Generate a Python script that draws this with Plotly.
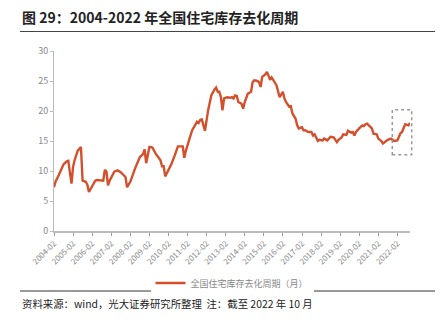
import plotly.graph_objects as go

# months since 2004-02 -> value
dates = [
    "2004-02","2004-03","2004-05","2004-07","2004-08","2004-10","2004-11","2005-01","2005-02","2005-03",
    "2005-05","2005-07","2005-08","2005-10","2005-11","2005-12","2006-02","2006-04","2006-05","2006-07",
    "2006-09","2006-10","2006-11","2006-12","2007-01","2007-04","2007-06","2007-08","2007-11","2007-12",
    "2008-02","2008-05","2008-08","2008-10","2008-11","2008-12","2009-02","2009-03","2009-04","2009-06",
    "2009-09","2009-10","2009-11","2009-12","2010-02","2010-04","2010-06","2010-08","2010-10","2010-11",
    "2010-12","2011-01","2011-03","2011-05","2011-08","2011-09","2011-10","2011-11","2012-01","2012-02",
    "2012-03","2012-05","2012-06","2012-07","2012-08","2012-09","2012-10","2012-11","2012-12","2013-01",
    "2013-03","2013-05","2013-06","2013-07","2013-08","2013-09","2013-10","2013-12","2014-01","2014-02",
    "2014-04","2014-06","2014-07","2014-08","2014-10","2014-11","2014-12","2015-01","2015-03","2015-04",
    "2015-05","2015-06","2015-07","2015-09","2015-10","2015-12","2016-02","2016-03","2016-04","2016-06",
    "2016-07","2016-08","2016-10","2016-11","2016-12","2017-02","2017-03","2017-04","2017-06","2017-08",
    "2017-09","2017-10","2017-12","2018-01","2018-03","2018-04","2018-06","2018-08","2018-09","2018-10",
    "2018-12","2019-01","2019-03","2019-04","2019-06","2019-07","2019-09","2019-10","2019-11","2019-12",
    "2020-02","2020-04","2020-05","2020-06","2020-07","2020-08","2020-10","2020-11","2021-01","2021-02",
    "2021-04","2021-05","2021-07","2021-08","2021-10","2021-11","2021-12","2022-02","2022-03","2022-04",
    "2022-05","2022-06","2022-07","2022-09","2022-10",
]
values = [
    7.3, 8.2, 9.3, 10.5, 11.1, 11.6, 11.7, 7.9, 10.7, 11.8,
    13.4, 14.0, 8.4, 8.2, 7.7, 6.5, 7.6, 8.4, 8.5, 8.4,
    8.4, 10.2, 9.9, 7.6, 8.4, 9.9, 10.1, 9.8, 9.0, 7.3,
    8.2, 10.4, 12.3, 12.8, 13.6, 11.3, 14.0, 14.0, 13.9, 12.9,
    11.8, 10.8, 10.8, 9.1, 10.1, 11.2, 12.6, 14.1, 14.1, 14.1,
    12.2, 13.4, 15.1, 16.8, 18.2, 18.0, 18.5, 18.6, 16.7, 18.7,
    20.1, 22.6, 23.2, 23.6, 23.9, 23.2, 23.2, 22.3, 20.1, 22.1,
    22.3, 22.2, 22.3, 22.1, 22.6, 22.5, 21.5, 21.2, 20.4, 21.5,
    22.9, 23.2, 24.8, 25.1, 25.0, 24.8, 24.0, 25.7, 26.1, 26.5,
    25.9, 25.2, 25.6, 24.8, 24.3, 22.3, 23.2, 22.1, 21.5, 20.7,
    20.8, 19.6, 18.7, 17.6, 17.1, 17.3, 16.8, 16.8, 16.5, 16.5,
    15.9, 16.1, 15.0, 15.2, 15.1, 15.4, 15.1, 15.7, 15.6, 15.6,
    14.8, 15.2, 15.6, 16.1, 16.0, 16.7, 16.4, 16.5, 15.9, 16.5,
    17.1, 17.6, 17.5, 17.8, 17.9, 17.6, 17.1, 16.2, 16.1, 15.4,
    15.0, 14.6, 15.0, 15.2, 15.4, 15.2, 15.0, 15.1, 15.6, 16.3,
    16.5, 17.3, 17.8, 17.6, 18.0,
]
series_name = "全国住宅库存去化周期（月）"
title_text = "图 29：2004-2022 年全国住宅库存去化周期"
source_text = "资料来源：wind，光大证券研究所整理  注：截至 2022 年 10 月"

x_dates = [d + "-01" for d in dates]

fig = go.Figure()
fig.add_trace(go.Scatter(
    x=x_dates, y=values, mode="lines", name=series_name,
    line=dict(color="#D4502C", width=2.4),
))

W, H = 445, 322
ml, mr, mt, mb = 54, 35, 51, 91
PW, PH = W - ml - mr, H - mt - mb

def px(x):
    return (x - ml) / PW

def py(y):
    return (H - mb - y) / PH

fig.update_layout(
    width=W, height=H,
    margin=dict(l=ml, r=mr, t=mt, b=mb, pad=0),
    paper_bgcolor="white", plot_bgcolor="white",
    font=dict(family="Noto Sans CJK SC", color="#888888"),
    showlegend=True,
    legend=dict(orientation="h", x=0.5, xanchor="center", y=py(283), yanchor="middle",
                font=dict(size=9, color="#888888"), itemwidth=30),
    xaxis=dict(
        type="date", range=["2004-02-01", "2022-10-01"],
        tick0="2004-02-01", dtick="M12", tickformat="%Y-%m",
        tickangle=-45, tickfont=dict(size=8, color="#888888"),
        showgrid=False, showline=True, linecolor="#BBBBBB", linewidth=1.5,
        ticks="outside", ticklen=3, tickcolor="#999999", zeroline=False,
    ),
    yaxis=dict(
        range=[0, 30], dtick=5, tickfont=dict(size=9, color="#888888"),
        showgrid=False, showline=True, linecolor="#BBBBBB", linewidth=1,
        ticks="outside", ticklen=3, tickcolor="#BBBBBB", zeroline=False,
    ),
)

# highlight box (dotted)
fig.add_shape(type="rect", xref="paper", yref="y",
              x0=px(392.3), x1=px(411.7), y0=12.7, y1=20.2,
              line=dict(color="#999999", width=1.5, dash="dot"))

# title and rules
fig.add_annotation(xref="paper", yref="paper",
                   x=px(20), y=py(17),
                   xanchor="left", yanchor="middle", showarrow=False,
                   text="<b>" + title_text + "</b>",
                   font=dict(size=14, color="#222222", family="Noto Sans CJK SC"))
fig.add_shape(type="line", xref="paper", yref="paper",
              x0=px(20), x1=px(435), y0=py(31.5), y1=py(31.5),
              line=dict(color="#444444", width=1))
fig.add_shape(type="line", xref="paper", yref="paper",
              x0=px(20), x1=px(435), y0=py(291), y1=py(291),
              line=dict(color="#333333", width=1))
fig.add_annotation(xref="paper", yref="paper",
                   x=px(20), y=py(303), 
                   xanchor="left", yanchor="middle", showarrow=False,
                   text=source_text,
                   font=dict(size=10.4, color="#222222", family="Noto Sans CJK SC"))

fig.write_html("out.html")
